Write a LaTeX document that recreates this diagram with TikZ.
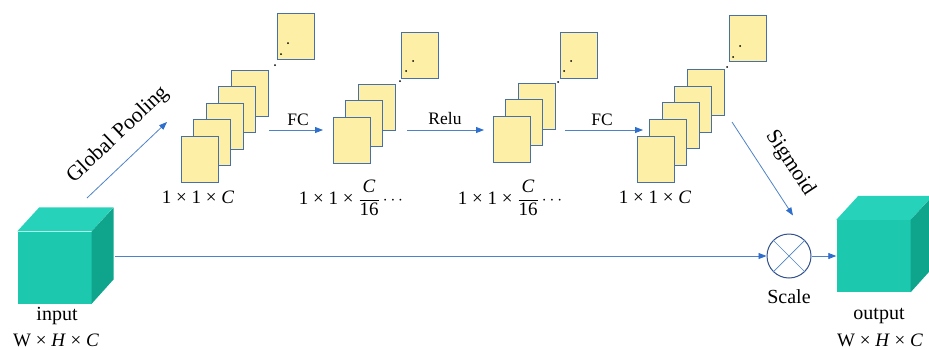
\documentclass[tikz,border=0pt]{standalone}
\usepackage{fontspec}
\setmainfont{Liberation Serif}
\usetikzlibrary{arrows.meta,calc}

\definecolor{cubefront}{RGB}{28,200,174}
\definecolor{cubetop}{RGB}{38,210,186}
\definecolor{cubeside}{RGB}{14,165,140}
\definecolor{cardfill}{RGB}{253,240,166}
\definecolor{cardedge}{RGB}{72,112,168}
\definecolor{flow}{RGB}{78,130,200}
\definecolor{flowtip}{RGB}{46,110,205}
\definecolor{ringedge}{RGB}{50,80,140}

\tikzset{
  card/.style={draw=cardedge, fill=cardfill, line width=1pt,
    minimum width=37pt, minimum height=46pt, inner sep=0pt},
  flowarrow/.style={draw=flow, line width=0.8pt,
    -{Triangle[length=8pt,width=6pt,color=flowtip]}},
  lbl/.style={font=\fontsize{17.5}{20}\selectfont, inner sep=0pt},
  biglbl/.style={font=\fontsize{20}{22}\selectfont, inner sep=0pt},
  dimlbl/.style={font=\fontsize{19}{22}\selectfont, inner sep=0pt},
  slantlbl/.style={font=\fontsize{21.5}{24}\selectfont, inner sep=0pt},
  dotmark/.style={fill=black, circle, inner sep=0pt, minimum size=2pt},
  cube/.pic={
    \node[fill=cubefront, draw=none, inner sep=0pt,
      minimum width=74pt, minimum height=72pt] (-front) at (0,0) {};
    \fill[cubetop] (-front.north west) -- ++(22,-24) -- ++(74,0)
      -- (-front.north east) -- cycle;
    \fill[cubeside] (-front.north east) -- ++(22,-24) -- ++(0,72)
      -- (-front.south east) -- cycle;
  },
}

\begin{document}
\begin{tikzpicture}[x=1pt, y=-1pt]
\useasboundingbox (0,0) rectangle (929,349);

% input and output feature maps
\pic (in) at (54.5,267.5) {cube};
\pic (out) at (873.5,256) {cube};

\node[biglbl] (inlbl) at (57,316) {input};
\node[dimlbl] (indim) at (56,340) {W × \textit{H} × \textit{C}};
\node[biglbl] (outlbl) at (879,316) {output};
\node[dimlbl] (outdim) at (880,340) {W × \textit{H} × \textit{C}};

% stack A: 1x1xC after pooling
\foreach \i in {4,3,...,0}
  \node[card] (sA\i) at ({199.5+12.6*\i},{159-16.4*\i}) {};
\node[card] (sAfar) at (295.5,36) {};
\node[dotmark] at (275,65) {};
\node[dotmark] at (281,54) {};
\node[dotmark] at (288,43) {};
\node[dimlbl] (lA) at (198,197) {1 × 1 × \textit{C}};

% stack B: 1x1xC/16 after first FC
\foreach \i in {2,1,0}
  \node[card] (sB\i) at ({351.5+12.5*\i},{140-16.2*\i}) {};
\node[card] (sBfar) at (419.5,55) {};
\node[dotmark] at (400,81) {};
\node[dotmark] at (406,71) {};
\node[dotmark] at (413,61) {};
\node[dimlbl] (lB) at (351,198) {1 × 1 × $\displaystyle\frac{\mbox{\itshape C}}{\mbox{16}}$\,$\cdots$};

% stack C: 1x1xC/16 after Relu
\foreach \i in {2,1,0}
  \node[card] (sC\i) at ({511.5+12.5*\i},{139-16.2*\i}) {};
\node[card] (sCfar) at (578.5,55) {};
\node[dotmark] at (558,82) {};
\node[dotmark] at (564,71) {};
\node[dotmark] at (571,61) {};
\node[dimlbl] (lC) at (510,198) {1 × 1 × $\displaystyle\frac{\mbox{\itshape C}}{\mbox{16}}$\,$\cdots$};

% stack D: 1x1xC after second FC
\foreach \i in {4,3,...,0}
  \node[card] (sD\i) at ({655.5+12.6*\i},{159-16.6*\i}) {};
\node[card] (sDfar) at (747.5,38) {};
\node[dotmark] at (727,67) {};
\node[dotmark] at (733,57) {};
\node[dotmark] at (740,46) {};
\node[dimlbl] (lD) at (655,197) {1 × 1 × \textit{C}};

% scale operator
\node[circle, draw=ringedge, line width=1pt, minimum size=44pt, inner sep=0pt]
  (scale) at (789,256) {};
\draw[flow, line width=0.7pt] (scale.north west) -- (scale.south east)
  (scale.north east) -- (scale.south west);
\node[biglbl] (scalelbl) at (789,297) {Scale};

% connectors
\coordinate (gpS) at (87,198);
\coordinate (gpE) at (167,122);
\draw[flowarrow] (gpS) -- (gpE);
\node[slantlbl, rotate=43.5] (gplbl) at (118,135) {Global Pooling};

\coordinate (fc1S) at (269,130);
\coordinate (fc1E) at (323,130);
\draw[flowarrow] (fc1S) -- (fc1E);
\node[lbl] (fc1lbl) at (298,120) {FC};

\coordinate (reS) at (407,130);
\coordinate (reE) at (484,130);
\draw[flowarrow] (reS) -- (reE);
\node[lbl] (relbl) at (445,119) {Relu};

\coordinate (fc2S) at (565,130);
\coordinate (fc2E) at (643,130);
\draw[flowarrow] (fc2S) -- (fc2E);
\node[lbl] (fc2lbl) at (602,120) {FC};

\coordinate (sgS) at (732,122);
\draw[flowarrow] (sgS) -- ($(scale.north)+(4,-18)$) coordinate (sgE);
\node[slantlbl, rotate=-56.7] (sglbl) at (790,163) {Sigmoid};

\coordinate (inR) at (115,256);
\draw[flowarrow] (inR) -- (scale.west);
\draw[flowarrow] (scale.east) -- (out-front.west);
\end{tikzpicture}
\end{document}
